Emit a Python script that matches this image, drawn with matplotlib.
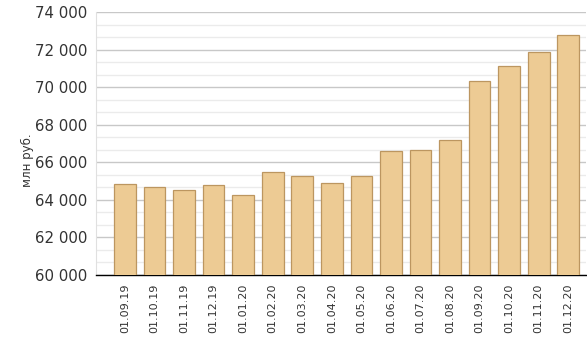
import matplotlib
matplotlib.use("Agg")
import matplotlib.pyplot as plt
from matplotlib.ticker import MultipleLocator, FuncFormatter

categories = ["01.09.19", "01.10.19", "01.11.19", "01.12.19", "01.01.20", "01.02.20",
              "01.03.20", "01.04.20", "01.05.20", "01.06.20", "01.07.20", "01.08.20",
              "01.09.20", "01.10.20", "01.11.20", "01.12.20"]
values = [64850, 64680, 64520, 64810, 64240, 65480,
          65250, 64900, 65250, 66600, 66650, 67180,
          70340, 71100, 71870, 72770]
ylabel = "млн руб."

plt.rcParams['font.family'] = ['DejaVu Sans']
fig = plt.figure(figsize=(5.87, 3.38), dpi=100)
ax = fig.add_axes([96/587, 1-275/338, 1-96/587-1/587, (275-12)/338])

x = list(range(len(categories)))
ax.bar(x, values, width=0.73, color='#EDCB94', edgecolor='#BC9660', linewidth=0.9, zorder=3)
ax.set_ylim(60000, 74000)
ax.set_xlim(-0.98, 15.6)

ax.yaxis.set_major_locator(MultipleLocator(2000))
ax.yaxis.set_minor_locator(MultipleLocator(2000/3))
ax.yaxis.set_major_formatter(FuncFormatter(lambda v, p: f"{int(v):,}".replace(",", " ")))
ax.grid(axis='y', which='major', color='#C8C8C8', linewidth=1.0, zorder=0)
ax.grid(axis='y', which='minor', color='#EBEBEB', linewidth=1.0, zorder=0)

ax.set_xticks(x)
ax.set_xticklabels(categories, rotation=90, fontsize=8, color='#333333')
ax.tick_params(axis='y', which='both', length=0, labelsize=10.8, labelcolor='#333333', pad=6)
ax.tick_params(axis='x', length=0, pad=6)

for s in ['top', 'right']:
    ax.spines[s].set_visible(False)
ax.spines['left'].set_color('#E0E0E0')
ax.spines['bottom'].set_color('#000000')
ax.spines['bottom'].set_linewidth(1.0)

fig.text(27/587, 1-160/338, ylabel, rotation=90, ha='center', va='center', fontsize=8.5, color='#333333')

fig.savefig("out.png", dpi=100)
